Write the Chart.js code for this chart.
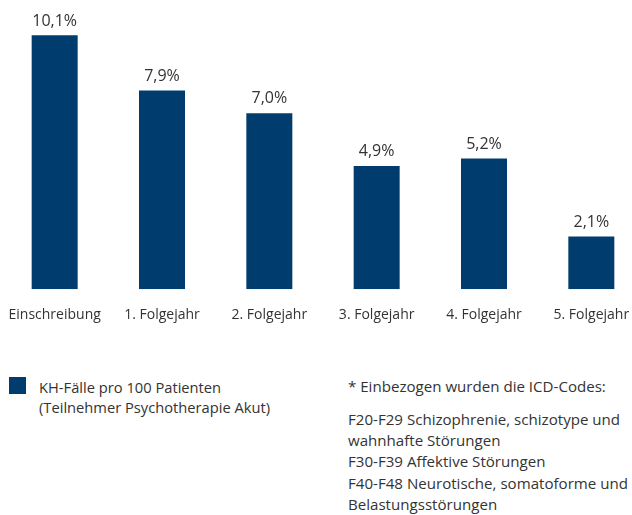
<!DOCTYPE html>
<html>
<head>
<meta charset="utf-8">
<script src="https://cdn.jsdelivr.net/npm/chart.js@4/dist/chart.umd.min.js"></script>
<style>
  html, body { margin: 0; padding: 0; background: #fff; overflow: hidden; width: 632px; height: 515px; }
  body { position: relative; font-family: "Open Sans", sans-serif; color: #333; }
  #wrap { position: absolute; left: 1px; top: 0; width: 644px; height: 323px; }
  .legend { position: absolute; left: 8px; top: 376.5px; font-size: 14.7px; line-height: 20.7px; }
  .legend .sw { position: absolute; left: 0.5px; top: 0.5px; width: 17px; height: 17px; background: #003d6e; }
  .legend .txt { position: absolute; left: 31px; top: 0; white-space: nowrap; }
  .note { position: absolute; left: 348px; font-size: 15.1px; white-space: nowrap; }
  .note.h { top: 376px; line-height: 20.7px; }
  .note.b { top: 408.5px; line-height: 21.4px; }
</style>
</head>
<body>
<div id="wrap"><canvas id="c" width="644" height="323"></canvas></div>
<div class="legend"><div class="sw"></div><div class="txt">KH-Fälle pro 100 Patienten<br>(Teilnehmer Psychotherapie Akut)</div></div>
<div class="note h">* Einbezogen wurden die ICD-Codes:</div>
<div class="note b">F20-F29 Schizophrenie, schizotype und<br>wahnhafte Störungen<br>F30-F39 Affektive Störungen<br>F40-F48 Neurotische, somatoforme und<br>Belastungsstörungen</div>
<script>
const categories = ["Einschreibung", "1. Folgejahr", "2. Folgejahr", "3. Folgejahr", "4. Folgejahr", "5. Folgejahr"];
const values = [10.1, 7.9, 7.0, 4.9, 5.2, 2.1];
const seriesLabel = "KH-Fälle pro 100 Patienten (Teilnehmer Psychotherapie Akut)";
const barColor = "#003d6e";
const textColor = "#333333";

const valueLabels = {
  id: "valueLabels",
  afterDatasetsDraw(chart) {
    const ctx = chart.ctx;
    const meta = chart.getDatasetMeta(0);
    ctx.save();
    ctx.font = "16px 'Open Sans'";
    ctx.fillStyle = textColor;
    ctx.textAlign = "center";
    ctx.textBaseline = "alphabetic";
    meta.data.forEach((bar, i) => {
      const v = chart.data.datasets[0].data[i];
      ctx.fillText(v.toFixed(1).replace(".", ",") + "%", bar.x, bar.y - 9.7);
    });
    ctx.restore();
  }
};

new Chart(document.getElementById("c"), {
  type: "bar",
  data: {
    labels: categories,
    datasets: [{
      label: seriesLabel,
      data: values,
      backgroundColor: barColor,
      borderWidth: 0,
      barPercentage: 0.4286,
      categoryPercentage: 1.0
    }]
  },
  options: {
    responsive: false,
    animation: false,
    devicePixelRatio: 1,
    layout: { padding: 0 },
    plugins: { legend: { display: false }, tooltip: { enabled: false } },
    scales: {
      x: {
        grid: { display: true, drawOnChartArea: false, drawTicks: true, tickLength: 17, color: "rgba(0,0,0,0)" },
        border: { display: false },
        ticks: { color: textColor, font: { family: "Open Sans", size: 14 }, padding: 0, maxRotation: 0, autoSkip: false }
      },
      y: {
        display: false,
        min: 0,
        max: 11.5
      }
    }
  },
  plugins: [valueLabels]
});
</script>
</body>
</html>
